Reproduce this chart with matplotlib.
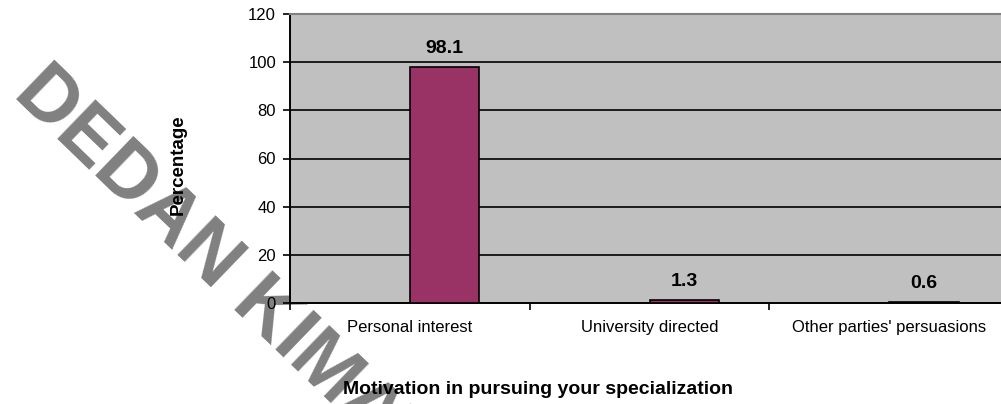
import matplotlib
matplotlib.use("Agg")
import matplotlib.pyplot as plt

plt.rcParams['font.family'] = ['Liberation Sans', 'DejaVu Sans']

categories = ["Personal interest", "University directed", "Other parties' persuasions"]
percent = [98.1, 1.3, 0.6]
yticks = [0, 20, 40, 60, 80, 100, 120]
watermark = "DEDAN KIMATHI UNIVERSITY OF TECHNOLOGY"

W, H = 1001, 404
fig = plt.figure(figsize=(W / 100, H / 100), dpi=100)

# plot area in pixels: left 290, right ~1009 (runs off the page), top 14, bottom 303
ax = fig.add_axes([290 / W, 1 - 303 / H, (1009 - 290) / W, (303 - 14) / H])
ax.set_facecolor('#c0c0c0')

pos = [i + 0.5 for i in range(len(categories))]
ax.bar(pos, percent, width=0.29, align='edge', color='#993366',
       edgecolor='black', linewidth=1.2, zorder=3)

for p, v in zip(pos, percent):
    ax.annotate(f"{v}", (p + 0.145, v), xytext=(0, 7), textcoords='offset points',
                ha='center', va='bottom', fontsize=14, fontweight='bold')

ax.set_xlim(0, 3)
ax.set_ylim(0, 120)
ax.set_yticks(yticks)
ax.set_xticks(range(len(categories) + 1))
ax.set_xticklabels([])
ax.set_xticks(pos, minor=True)
ax.set_xticklabels(categories, minor=True)
ax.tick_params(axis='x', which='major', direction='out', length=5, width=1.2)
ax.tick_params(axis='x', which='minor', length=0, pad=12, labelsize=12)
ax.tick_params(axis='y', direction='out', length=5, width=1.2, pad=5, labelsize=12)

for y in yticks[1:-1]:
    ax.axhline(y, color='black', linewidth=1.2, zorder=2)

ax.spines['right'].set_visible(False)
ax.spines['top'].set_color('#808080')
ax.spines['top'].set_linewidth(1.5)
ax.spines['left'].set_linewidth(1.4)
ax.spines['bottom'].set_linewidth(1.4)

fig.text(178 / W, 1 - 165 / H, "Percentage", rotation=90, ha='center', va='center',
         fontsize=13.5, fontweight='bold')
fig.text(538 / W, 1 - 390 / H, "Motivation in pursuing your specialization",
         ha='center', va='center', fontsize=14, fontweight='bold')

# diagonal watermark, behind the texts
fig.text(12 / W, 1 - 95 / H, watermark, rotation=-44, rotation_mode='anchor',
         ha='left', va='baseline', fontsize=57, fontweight='bold', color='#808080', zorder=-1)

fig.savefig("out.png", dpi=100)
